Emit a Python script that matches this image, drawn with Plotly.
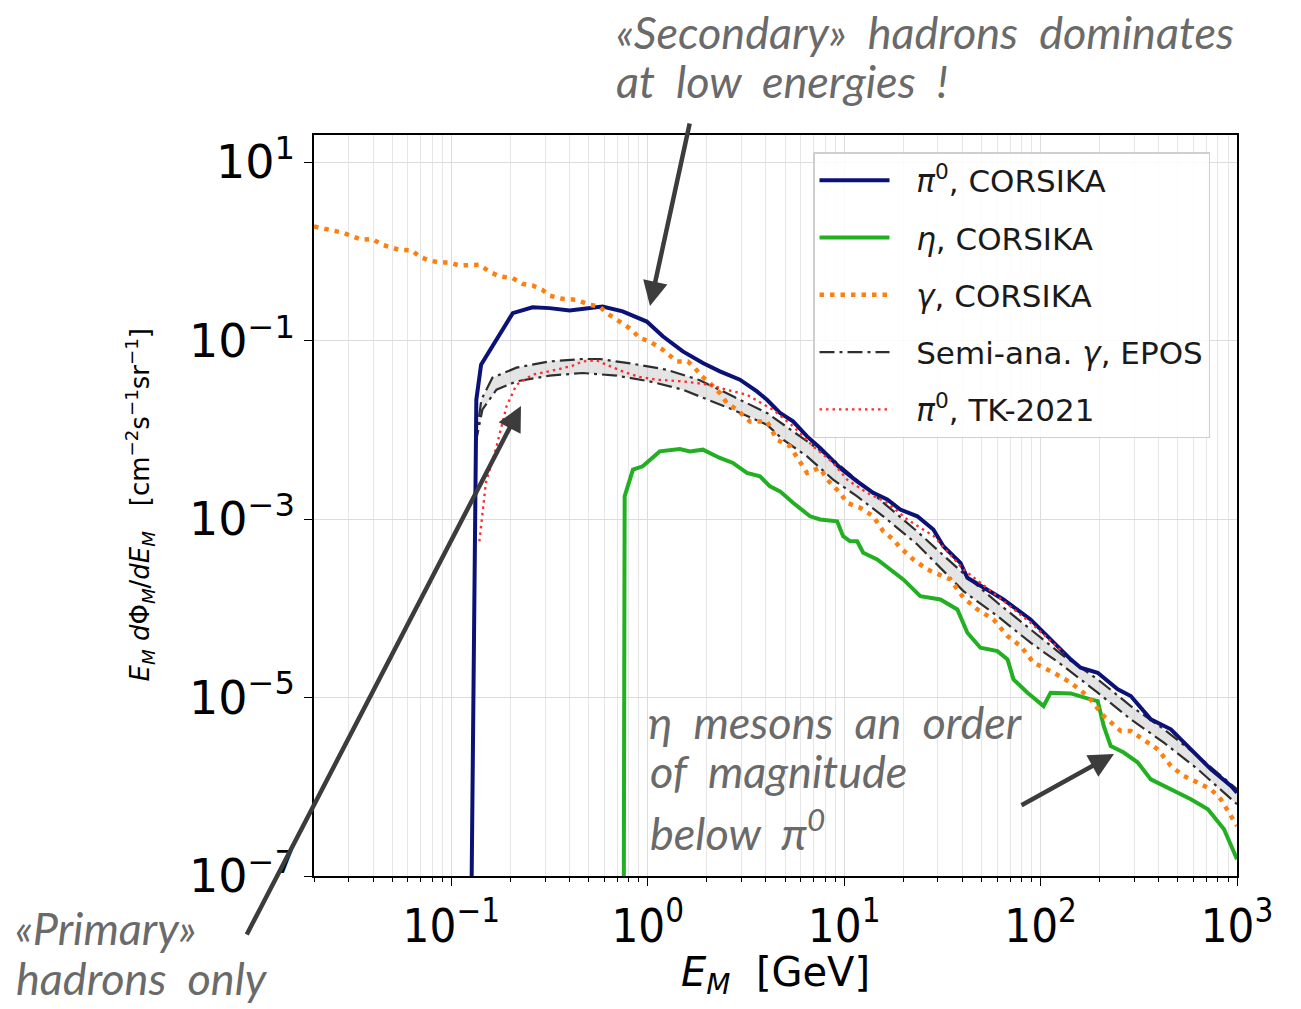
import plotly.graph_objects as go

# ---- meson / photon fluxes  E * dPhi/dE  [cm^-2 s^-1 sr^-1] versus E [GeV] ----
# pi0, CORSIKA
E_pi0 = [0.1257, 0.1341, 0.1418, 0.2055, 0.2591, 0.316, 0.400, 0.506, 0.589, 0.745,
         0.989, 1.193, 1.509, 1.909, 2.330, 2.947, 3.598, 4.047, 4.715, 5.494,
         6.475, 7.544, 9.541, 11.65, 14.06, 16.58, 19.31, 23.58, 28.46, 32.0,
         39.1, 42.4, 53.7, 64.7, 88.9, 116.5, 142.3, 160.0, 195.4, 247.2,
         287.9, 364.1, 460.6, 582.6, 736.9, 932.2, 1000]
F_pi0 = [1e-8, 0.0218, 0.0539, 0.204, 0.237, 0.232, 0.218, 0.232, 0.242, 0.213,
         0.164, 0.112, 0.0759, 0.0562, 0.0453, 0.0366, 0.0270, 0.0218, 0.01549, 0.01247,
         0.00847, 0.00628, 0.00375, 0.002655, 0.001972, 0.00166, 0.00128, 0.001077, 0.000765, 0.000498,
         0.000324, 0.000220, 0.000163, 0.000126, 7.52e-5, 4.12e-5, 2.68e-5, 2.16e-5, 1.90e-5, 1.236e-5,
         1.04e-5, 5.70e-6, 4.41e-6, 2.63e-6, 1.57e-6, 1.02e-6, 8.6e-7]

# eta, CORSIKA
E_eta = [0.754, 0.763, 0.841, 0.943, 1.151, 1.457, 1.638, 1.909, 2.330, 2.715,
         3.200, 3.727, 4.193, 4.715, 5.494, 6.707, 7.544, 9.21, 9.88, 10.73,
         11.65, 12.50, 14.74, 17.17, 20.0, 24.42, 30.9, 37.7, 42.4, 49.4,
         60.3, 67.9, 72.8, 85.8, 103.6, 112.5, 142.3, 179.9, 195.4, 209.6,
         227.6, 265.1, 312.6, 364.1, 424.2, 500, 582.6, 711, 859, 1000]
F_eta = [1e-8, 0.0018, 0.00359, 0.00391, 0.00575, 0.00612, 0.00575, 0.00601, 0.00485, 0.00427,
         0.00330, 0.00302, 0.00233, 0.00205, 0.001524, 0.001077, 0.000991, 0.000947, 0.000644, 0.000565,
         0.000565, 0.000420, 0.000353, 0.000273, 0.000211, 0.000137, 0.000126, 9.72e-5, 5.33e-5, 3.62e-5,
         3.32e-5, 2.68e-5, 1.60e-5, 1.135e-5, 8.04e-6, 1.135e-5, 1.114e-5, 9.55e-6, 9.14e-6, 4.80e-6,
         2.86e-6, 2.42e-6, 1.87e-6, 1.21e-6, 1.02e-6, 8.61e-7, 7.24e-7, 5.60e-7, 3.34e-7, 1.54e-7]

# gamma, CORSIKA
E_gam = [0.02, 0.0247, 0.0278, 0.0352, 0.0395, 0.0445, 0.0543, 0.0632, 0.0687, 0.0773,
         0.0869, 0.0977, 0.110, 0.139, 0.156, 0.176, 0.205, 0.230, 0.259, 0.291,
         0.316, 0.368, 0.434, 0.506, 0.569, 0.618, 0.745, 0.829, 0.910, 1.024,
         1.193, 1.406, 1.600, 1.738, 1.888, 2.071, 2.330, 2.530, 2.845, 3.314,
         4.047, 4.295, 4.553, 5.30, 5.97, 6.475, 7.11, 7.54, 8.19, 9.54,
         10.36, 12.07, 14.06, 15.81, 17.78, 19.31, 22.5, 26.5, 34.7, 40.5,
         47.7, 57.5, 67.9, 79.1, 92.1, 116.5, 142.3, 173.8, 209.6, 256,
         288, 335.6, 395.4, 460.6, 537, 632, 737, 828, 1000]
F_gam = [1.905, 1.75, 1.633, 1.352, 1.387, 1.189, 1.045, 1.026, 0.879, 0.793,
         0.753, 0.753, 0.697, 0.710, 0.597, 0.525, 0.504, 0.435, 0.416, 0.372,
         0.321, 0.295, 0.288, 0.253, 0.242, 0.204, 0.158, 0.133, 0.107, 0.0982,
         0.0793, 0.0586, 0.0586, 0.0494, 0.0398, 0.0336, 0.0259, 0.0200, 0.01687, 0.01247,
         0.01247, 0.01007, 0.00778, 0.00655, 0.00427, 0.00330, 0.00359, 0.00375, 0.00277, 0.00197,
         0.00152, 0.00134, 0.001077, 0.000731, 0.000591, 0.000478, 0.000353, 0.000273, 0.000211, 0.0001315,
         9.72e-5, 7.52e-5, 4.89e-5, 3.78e-5, 2.46e-5, 1.90e-5, 1.47e-5, 1.04e-5, 6.21e-6, 4.22e-6,
         4.22e-6, 3.40e-6, 2.63e-6, 1.71e-6, 1.32e-6, 1.11e-6, 9.37e-7, 7.24e-7, 3.64e-7]

# semi-analytic gamma (EPOS): upper and lower edges of the band
E_epos_hi = [0.1326, 0.1422, 0.1619, 0.2146, 0.3162, 0.4659, 0.5689, 0.8385, 1.250, 1.842,
             2.715, 4.047, 5.965, 8.788, 15.81, 23.58, 40.47, 60.33, 88.93, 131.0,
             195.4, 287.9, 424.2, 632.4, 1000]
F_epos_hi = [0.00684, 0.0218, 0.0385, 0.0499, 0.0586, 0.0624, 0.0624, 0.0552, 0.0473, 0.0361,
             0.0238, 0.0155, 0.00847, 0.00465, 0.001535, 0.000726, 0.000246, 0.0001156, 5.81e-5, 2.92e-5,
             1.60e-5, 8.04e-6, 4.41e-6, 2.21e-6, 9.37e-7]
E_epos_lo = [0.1326, 0.1439, 0.1697, 0.2146, 0.3162, 0.4660, 0.6947, 1.024, 1.509, 2.715,
             4.047, 4.884, 6.475, 8.788, 11.65, 15.81, 23.58, 40.47, 60.33, 88.93,
             131.0, 195.4, 287.9, 424.2, 632.4, 1000]
F_epos_lo = [0.00684, 0.01687, 0.02825, 0.0350, 0.0406, 0.0435, 0.0406, 0.0350, 0.02825, 0.01687,
             0.01146, 0.00778, 0.00506, 0.00277, 0.0018, 0.001077, 0.00052, 0.000156, 8.18e-5, 4.12e-5,
             2.25e-5, 1.135e-5, 5.70e-6, 3.13e-6, 1.57e-6, 6.37e-7]

# pi0, TK-2021
E_tk = [0.139, 0.150, 0.170, 0.191, 0.2146, 0.259, 0.343, 0.414, 0.466, 0.549,
        0.618, 0.745, 0.910, 1.111, 1.509, 2.071, 2.330, 3.200, 4.343, 5.494,
        6.95, 8.79, 10.36, 13.10, 16.58, 20.96, 28.46, 40.47, 60.3, 88.9, 131.0]
F_tk = [0.000565, 0.00257, 0.00655, 0.01837, 0.0321, 0.0416, 0.0473, 0.0525, 0.0586, 0.0601,
        0.0538, 0.0453, 0.0393, 0.0366, 0.0350, 0.0321, 0.0295, 0.0248, 0.01687, 0.01096,
        0.00655, 0.00427, 0.00277, 0.00197, 0.001524, 0.000991, 0.000650, 0.000273, 0.000137, 6.90e-5, 3.18e-5]

# axis ticks
x_tickvals = [1e-1, 1e0, 1e1, 1e2, 1e3]
x_ticktext = ["10<sup>−1</sup>", "10<sup>0</sup>", "10<sup>1</sup>", "10<sup>2</sup>", "10<sup>3</sup>"]
y_tickvals = [1e1, 1e-1, 1e-3, 1e-5, 1e-7]
y_ticktext = ["10<sup>1</sup>", "10<sup>−1</sup>", "10<sup>−3</sup>", "10<sup>−5</sup>", "10<sup>−7</sup>"]
x_minor = [m * 10.0 ** e for e in range(-2, 3) for m in range(2, 10) if m * 10.0 ** e >= 0.02]

# figure geometry (pixels) used to place the free-standing remarks
W, H = 1301, 1009
ML, MR, MT, MB = 314, 64, 135, 133
PW, PH = W - ML - MR, H - MT - MB


def px(x):
    return (x - ML) / PW


def py(y):
    return (H - MB - y) / PH


HAND = dict(family="Lato, Open Sans, DejaVu Sans", size=45, color="#6a6a6a", style="italic")
ARROW = "#3c3c3c"
GAP = "\u2002\u2009"

fig = go.Figure()

# shaded EPOS band
fig.add_trace(go.Scatter(
    x=E_epos_hi + E_epos_lo[::-1], y=F_epos_hi + F_epos_lo[::-1],
    mode="lines", fill="toself", fillcolor="rgba(185,185,185,0.38)",
    line=dict(width=0), hoverinfo="skip", showlegend=False))

dashdot = dict(color="#2e2e2e", width=2.2, dash="15px,5px,3px,5px")
fig.add_trace(go.Scatter(x=E_epos_lo, y=F_epos_lo, mode="lines", line=dashdot,
                         showlegend=False, legendgroup="epos", legendrank=4))
fig.add_trace(go.Scatter(x=E_epos_hi, y=F_epos_hi, mode="lines", line=dashdot,
                         name=GAP + "Semi-ana. <i>γ</i>, EPOS", legendgroup="epos", legendrank=4))

fig.add_trace(go.Scatter(x=E_pi0, y=F_pi0, mode="lines",
                         line=dict(color="#0b1277", width=4),
                         name=GAP + "<i>π</i><sup>0</sup>, CORSIKA", legendgroup="pi0", legendrank=1))
fig.add_trace(go.Scatter(x=E_eta, y=F_eta, mode="lines",
                         line=dict(color="#22b022", width=4),
                         name=GAP + "<i>η</i>, CORSIKA", legendgroup="eta", legendrank=2))
fig.add_trace(go.Scatter(x=E_gam, y=F_gam, mode="lines",
                         line=dict(color="#ff7f0e", width=4.5, dash="4.5px,6px"),
                         name=GAP + "<i>γ</i>, CORSIKA", legendgroup="gam", legendrank=3))
fig.add_trace(go.Scatter(x=E_tk, y=F_tk, mode="lines",
                         line=dict(color="#ff2a2a", width=2.3, dash="2.5px,4px"),
                         name=GAP + "<i>π</i><sup>0</sup>, TK-2021", legendgroup="tk", legendrank=5))

axis_common = dict(type="log", showline=True, mirror=True, linecolor="black", linewidth=1.5,
                   gridcolor="#dcdcdc", gridwidth=1, ticks="outside", tickcolor="black",
                   ticklen=8, tickwidth=1.3, zeroline=False, tickmode="array")

fig.update_xaxes(**axis_common, range=[-1.699, 3.0],
                 tickvals=x_tickvals, ticktext=x_ticktext,
                 tickfont=dict(family="DejaVu Sans Condensed, Liberation Sans Narrow, DejaVu Sans",
                               size=47, color="black"),
                 minor=dict(tickmode="array", tickvals=x_minor, ticks="outside", ticklen=4,
                            tickcolor="black", showgrid=True, gridcolor="#e6e6e6", gridwidth=1))
fig.update_yaxes(**axis_common, range=[-7, 1.306],
                 tickvals=y_tickvals, ticktext=y_ticktext,
                 tickfont=dict(family="DejaVu Sans", size=46, color="black"))


def remark(text, x, y):
    return dict(text=text, xref="paper", yref="paper", x=px(x), y=py(y),
                xanchor="left", yanchor="middle", align="left", showarrow=False, font=HAND)


def arrow(x_tail, y_tail, x_tip, y_tip):
    return dict(text="", xref="paper", yref="paper", x=px(x_tip), y=py(y_tip),
                ax=x_tail - x_tip, ay=y_tail - y_tip,
                showarrow=True, arrowhead=2, arrowsize=1.1, arrowwidth=4.5, arrowcolor=ARROW,
                standoff=0, startstandoff=0)


annotations = [
    # axis titles
    dict(text="<i>E</i><sub><i>M</i></sub> <i>d</i>Φ<sub><i>M</i></sub>/<i>dE</i><sub><i>M</i></sub>"
              "   [cm<sup>−2</sup>s<sup>−1</sup>sr<sup>−1</sup>]",
         xref="paper", yref="paper", x=px(140), y=0.5, textangle=-90, showarrow=False,
         xanchor="center", yanchor="middle",
         font=dict(family="DejaVu Sans", size=26, color="black")),
    dict(text="<i>E</i><sub><i>M</i></sub>  [GeV]",
         xref="paper", yref="paper", x=0.5, y=py(975), showarrow=False,
         xanchor="center", yanchor="middle",
         font=dict(family="DejaVu Sans", size=40, color="black")),
    # hand-written remarks, one line each
    remark("«Secondary»  hadrons  dominates", 614, 32),
    remark("at  low  energies  !", 614, 81),
    remark("η  mesons  an  order", 646, 722),
    remark("of  magnitude", 648, 771),
    remark("below  π<sup>0</sup>", 648, 830),
    remark("«Primary»", 13, 928),
    remark("hadrons  only", 14, 978),
    # arrows pointing at the curves
    arrow(690, 122, 650, 306),
    arrow(246, 936, 521, 406),
    arrow(1020, 806, 1114, 754),
]

fig.update_layout(
    width=W, height=H,
    margin=dict(l=ML, r=MR, t=MT, b=MB),
    paper_bgcolor="white", plot_bgcolor="white",
    annotations=annotations,
    legend=dict(x=px(813), y=py(152), xanchor="left", yanchor="top",
                bgcolor="rgba(255,255,255,0.85)", bordercolor="#cfcfcf", borderwidth=1.5,
                font=dict(family="DejaVu Sans", size=31, color="#1a1a1a"),
                itemwidth=70, tracegroupgap=14, traceorder="grouped"),
)

fig.write_html("out.html")
